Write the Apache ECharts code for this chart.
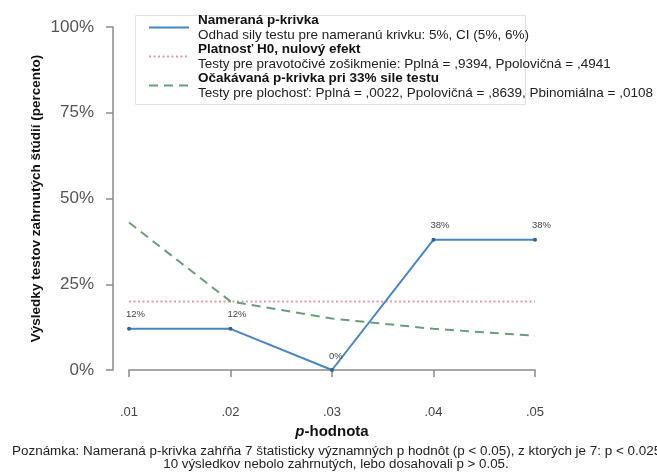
<!DOCTYPE html>
<html>
<head>
<meta charset="utf-8">
<script src="https://cdn.jsdelivr.net/npm/echarts@6/dist/echarts.min.js"></script>
<style>
  html, body { margin: 0; padding: 0; background: #fff; }
  #chart { width: 657px; height: 473px; }
</style>
</head>
<body>
<div id="chart"></div>
<script>
// p-value bins on the horizontal axis
const pValues = ['.01', '.02', '.03', '.04', '.05'];
// observed p-curve (% of significant results in each bin)
const observed = [12, 12, 0, 38, 38];
// null of zero effect: uniform distribution across the five bins
const nullEffect = [20, 20, 20, 20, 20];
// expected p-curve under 33% power
const expected33 = [43, 20, 15, 12, 10];
const yTicks = [0, 25, 50, 75, 100];

const seriesNames = [
  'Nameraná p-krivka',
  'Platnosť H0, nulový efekt',
  'Očakávaná p-krivka pri 33% sile testu'
];
const seriesNotes = [
  'Odhad sily testu pre nameranú krivku: 5%, CI (5%, 6%)',
  'Testy pre pravotočivé zošikmenie: Pplná = ,9394, Ppolovičná = ,4941',
  'Testy pre plochosť: Pplná = ,0022, Ppolovičná = ,8639, Pbinomiálna = ,0108'
];
const noteLines = [
  'Poznámka: Nameraná p-krivka zahŕňa 7 štatisticky významných p hodnôt (p < 0.05), z ktorých je 7: p < 0.025.',
  '10 výsledkov nebolo zahrnutých, lebo dosahovali p > 0.05.'
];

const font = 'Liberation Sans, Arial, sans-serif';
const chart = echarts.init(document.getElementById('chart'), null, { renderer: 'canvas' });

chart.setOption({
  backgroundColor: '#fff',
  animation: false,
  textStyle: { fontFamily: font },
  grid: { left: 129, right: 122, top: 27, bottom: 103 },
  xAxis: {
    type: 'category',
    data: pValues,
    boundaryGap: false,
    offset: 16,
    name: '{i|p}-hodnota',
    nameLocation: 'middle',
    nameGap: 37,
    nameTextStyle: {
      rich: {
        i: { fontFamily: font, fontSize: 15, fontWeight: 'bold', fontStyle: 'italic', color: '#111' }
      },
      fontFamily: font, fontSize: 15, fontWeight: 'bold', color: '#111'
    },
    axisLine: { lineStyle: { color: '#8a8a8a', width: 1.5 } },
    axisTick: { alignWithLabel: true, length: 7, lineStyle: { color: '#8a8a8a', width: 1.5 } },
    axisLabel: { margin: 20, fontSize: 13, color: '#444', fontFamily: font },
    splitLine: { show: false }
  },
  yAxis: {
    type: 'value',
    min: 0,
    max: 100,
    interval: 25,
    offset: 16,
    name: 'Výsledky testov zahrnutých štúdií (percento)',
    nameLocation: 'middle',
    nameGap: 70,
    nameMoveOverlap: false,
    nameRotate: 90,
    nameTextStyle: { fontFamily: font, fontSize: 13.5, fontWeight: 'bold', color: '#111' },
    axisLine: { show: true, lineStyle: { color: '#8a8a8a', width: 1.5 } },
    axisTick: { show: true, length: 7, lineStyle: { color: '#8a8a8a', width: 1.5 } },
    axisLabel: {
      margin: 19, fontSize: 17, color: '#555', fontFamily: font,
      formatter: v => (yTicks.includes(v) ? v + '%' : '')
    },
    splitLine: { show: false }
  },
  legend: {
    orient: 'vertical',
    left: 148,
    top: 13,
    itemWidth: 40,
    itemHeight: 12,
    itemGap: 0,
    padding: 0,
    itemStyle: { opacity: 0 },
    data: seriesNames,
    formatter: name => {
      const i = seriesNames.indexOf(name);
      return '{b|' + name + '}\n{n|' + seriesNotes[i] + '}';
    },
    textStyle: {
      padding: [0, 0, 0, 4],
      rich: {
        b: { fontFamily: font, fontSize: 13.5, fontWeight: 'bold', color: '#111', lineHeight: 15 },
        n: { fontFamily: font, fontSize: 13.5, color: '#222', lineHeight: 15 }
      }
    }
  },
  graphic: [
    {
      type: 'rect',
      left: 133,
      top: 13,
      shape: { width: 390, height: 89 },
      style: { fill: 'none', stroke: '#e2e2e2', lineWidth: 1 },
      z: 0
    },
    {
      type: 'text',
      x: 12,
      y: 446,
      scaleX: 1.12,
      style: { text: noteLines[0], font: '12px ' + font, fill: '#222' }
    },
    {
      type: 'text',
      x: 336,
      y: 459,
      scaleX: 1.11,
      style: { text: noteLines[1], font: '12px ' + font, fill: '#222', align: 'center' }
    }
  ],
  series: [
    {
      name: seriesNames[0],
      type: 'line',
      data: observed,
      symbol: 'circle',
      symbolSize: 4,
      itemStyle: { color: '#2f6391' },
      lineStyle: { color: '#4a86bd', width: 2 },
      label: {
        show: true,
        position: 'top',
        align: 'left',
        offset: [-3, -2],
        fontSize: 9.5,
        color: '#444',
        fontFamily: font,
        formatter: p => p.value + '%'
      },
      z: 5
    },
    {
      name: seriesNames[1],
      type: 'line',
      data: nullEffect,
      symbol: 'none',
      itemStyle: { color: '#e59aa2' },
      lineStyle: { color: '#e59aa2', width: 2, type: [2, 2.5] },
      z: 3
    },
    {
      name: seriesNames[2],
      type: 'line',
      data: expected33,
      symbol: 'none',
      itemStyle: { color: '#6a9c7c' },
      lineStyle: { color: '#6a9c7c', width: 2, type: [9, 6] },
      z: 4
    }
  ]
});
</script>
</body>
</html>
